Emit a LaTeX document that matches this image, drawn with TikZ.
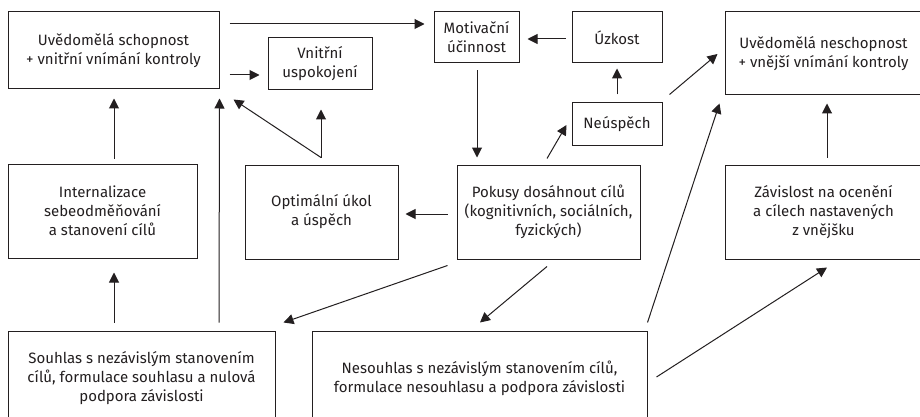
\documentclass[tikz,border=0pt]{standalone}
\usepackage{fontspec}
\setmainfont{Fira Sans}
\usetikzlibrary{arrows.meta,calc}
\definecolor{ink}{HTML}{231F20}
\tikzset{
  box/.style={draw=ink, line width=1pt, rectangle, inner sep=0pt, align=center,
    text=ink, font=\fontsize{15}{19}\selectfont},
  arr/.style={draw=ink, line width=1pt, -{Triangle[length=10pt,width=10pt]}},
  ln/.style={draw=ink, line width=1pt}
}
\newcommand{\bx}[6]{% name, x1,y1,x2,y2, text
  \node[box, minimum width=#4-#2, minimum height=#5-#3] (#1) at ({(#2+#4)/2},{(#3+#5)/2}) {#6};}
\begin{document}
\begin{tikzpicture}[x=1pt,y=-1pt]
\useasboundingbox (0,0) rectangle (920,417);
\clip (0,0) rectangle (920,417);
\fill[white] (0,0) rectangle (920,417);
\bx{A}{8}{12}{219}{89}{Uvědomělá schopnost\\+ vnitřní vnímání kontroly}
\bx{V}{268}{38}{372}{90}{Vnitřní\\uspokojení}
\bx{M}{434}{12}{519}{63}{Motivační\\účinnost}
\bx{U}{572}{12}{662}{63}{Úzkost}
\bx{N}{572}{103}{662}{145}{Neúspěch}
\bx{UN}{725}{12}{922}{95}{Uvědomělá neschopnost\\+ vnější vnímání kontroly}
\bx{I}{8}{164}{197}{258}{Internalizace\\sebeodměňování\\a stanovení cílů}
\bx{O}{245}{165}{398}{259}{Optimální úkol\\a úspěch}
\bx{P}{457}{165}{640}{259}{Pokusy dosáhnout cílů\\(kognitivních, sociálních,\\fyzických)}
\bx{Z}{725}{165}{922}{259}{Závislost na ocenění\\a cílech nastavených\\z vnějšku}
\bx{S}{8}{331}{275}{425}{Souhlas s nezávislým stanovením\\cílů, formulace souhlasu a nulová\\podpora závislosti}
\bx{NS}{312}{331}{647}{425}{Nesouhlas s nezávislým stanovením cílů,\\formulace nesouhlasu a podpora závislosti}
% connector points
\coordinate (fork) at ($(O.north)+(-0.5,-7)$);
% arrows
\draw[arr] ($(A.east)+(10,-26.5)$) -- ($(M.west)+(-9,-13.5)$);
\draw[arr] ($(A.east)+(10,24.5)$) -- ($(V.west)+(-8,11)$);
\draw[arr] ($(U.west)+(-6,1.5)$) -- ($(M.east)+(8,1.5)$);
\draw[arr] ($(N.north)+(0,-8)$) -- ($(U.south)+(0,5)$);
\draw[arr] ($(M.south)+(0.5,7)$) -- ($(M.south |- P.north)+(0.5,-7)$);
\draw[arr] ($(P.north)+(-1.5,-6)$) -- ($(N.west)+(-5,1)$);
\draw[arr] ($(N.north east)+(7,-8)$) -- ($(UN.west)+(-7,0.5)$);
\draw[arr] ($(P.west)+(-9,2)$) -- ($(O.east)+(7,2)$);
\draw[arr] (fork) -- ($(A.south east)+(14,10)$);
\draw[arr] (fork) -- ($(V.south)+(1,19)$);
\draw[arr] ($(I.north)+(11.5,-5)$) -- ($(A.south)+(0.5,9)$);
\draw[arr] ($(S.north)+(77.5,-8)$) -- ($(A.south east)+(0,9)$);
\draw[arr] ($(S.north)+(-27.5,-8)$) -- ($(I.south)+(11.5,14)$);
\draw[arr] ($(P.south west)+(-9,6)$) -- ($(S.north east)+(8,-8)$);
\draw[arr] ($(P.south)+(-1.5,7)$) -- ($(NS.north)+(0.5,-8)$);
\draw[arr] ($(NS.north east)+(0,-8)$) -- ($(UN.south west)+(-5,8)$);
\draw[arr] ($(NS.east)+(9,-1)$) -- ($(Z.south)+(3.5,8)$);
\draw[arr] ($(Z.north)+(3.5,-7)$) -- ($(UN.south)+(3.5,8)$);
\end{tikzpicture}
\end{document}
